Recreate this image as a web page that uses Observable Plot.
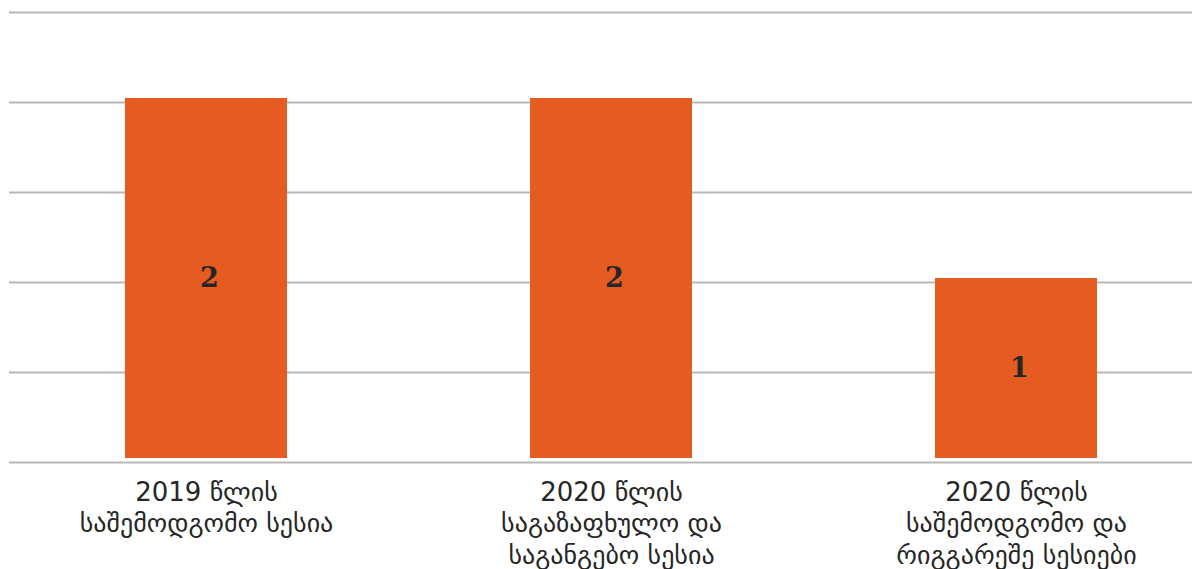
<!DOCTYPE html>
<html>
<head>
<meta charset="utf-8">
<script src="https://cdn.jsdelivr.net/npm/d3@7"></script>
<script src="https://cdn.jsdelivr.net/npm/@observablehq/plot@0.6"></script>
<style>
  html, body { margin: 0; padding: 0; background: #ffffff; }
  #chart svg { display: block; }
</style>
</head>
<body>
<div id="chart"></div>
<script>
const categories = [
  "2019 წლის\nსაშემოდგომო სესია",
  "2020 წლის\nსაგაზაფხულო და\nსაგანგებო სესია",
  "2020 წლის\nსაშემოდგომო და\nრიგგარეშე სესიები"
];
const values = [2, 2, 1];
const yTicks = [0, 0.5, 1, 1.5, 2, 2.5];

const data = categories.map((c, i) => ({category: c, value: values[i]}));

const chart = Plot.plot({
  width: 1192,
  height: 569,
  marginTop: 12,
  marginBottom: 107,
  marginLeft: 9,
  marginRight: 0,
  style: {background: "#ffffff"},
  x: {domain: categories, range: [3.5, 1218.5], paddingInner: 0.6, paddingOuter: 0.3, axis: null},
  y: {domain: [0, 2.5], axis: null},
  marks: [
    Plot.ruleY(yTicks, {stroke: "#b8b8b8", strokeWidth: 2}),
    Plot.barY(data, {x: "category", y: "value", fill: "#e65b21", dy: -4}),
    Plot.text(data, {
      x: "category", y: d => d.value / 2, text: d => String(d.value),
      dx: 3, dy: -4, fill: "#262626", fontSize: 27, fontWeight: "bold",
      fontFamily: "DejaVu Serif"
    }),
    Plot.text(data, {
      x: "category", y: 0, text: "category",
      lineAnchor: "top", lineHeight: 1.21, dy: 16,
      fill: "#262626", fontSize: 26, fontFamily: "DejaVu Sans"
    })
  ]
});
document.getElementById("chart").appendChild(chart);
</script>
</body>
</html>
